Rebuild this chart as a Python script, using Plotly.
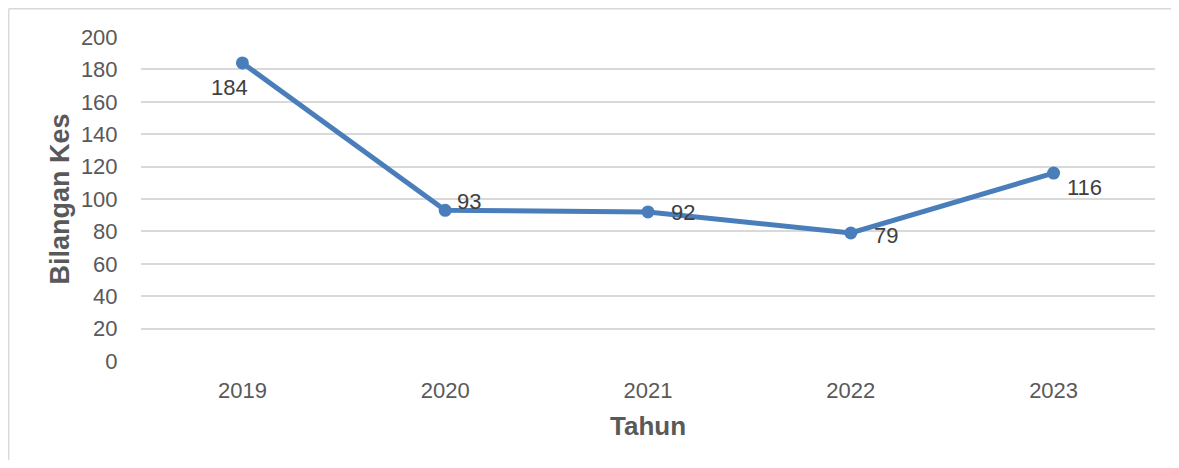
"""Line chart: Bilangan Kes per Tahun."""
import plotly.graph_objects as go

years = [2019, 2020, 2021, 2022, 2023]
cases = [184, 93, 92, 79, 116]

# pixel offsets of the data labels relative to each marker
label_dx = [-13, 24, 35, 35, 31]
label_dy = [-25, 9, -1, -2, -14]

y_ticks = list(range(0, 201, 20))

LINE_BLUE = "#4A7EBB"
GRID = "#D9D9D9"
TICK_GREY = "#595959"
FONT = "Liberation Sans, Arial, sans-serif"

fig = go.Figure()
fig.add_trace(
    go.Scatter(
        x=years,
        y=cases,
        mode="lines+markers",
        line=dict(color=LINE_BLUE, width=5),
        marker=dict(color=LINE_BLUE, size=13),
        hoverinfo="x+y",
        showlegend=False,
    )
)

for yr, val, dx, dy in zip(years, cases, label_dx, label_dy):
    fig.add_annotation(
        x=yr, y=val,
        text=str(val),
        showarrow=False,
        xshift=dx, yshift=dy,
        font=dict(family=FONT, size=22, color="#404040"),
    )

# outer chart border: only the left and top edges are inside the crop
fig.add_shape(
    type="line", xref="paper", yref="paper",
    x0=-0.1305, x1=-0.1305, y0=-0.45, y1=1.087,
    line=dict(color=GRID, width=1.5),
    layer="below",
)
fig.add_shape(
    type="line", xref="paper", yref="paper",
    x0=-0.1305, x1=1.2, y0=1.087, y1=1.087,
    line=dict(color=GRID, width=1.5),
    layer="below",
)

fig.update_layout(
    # page body adds an 8px margin; keep the figure inside the window
    width=1163,
    height=452,
    paper_bgcolor="white",
    plot_bgcolor="white",
    margin=dict(l=133, r=16, t=29, b=99),
    font=dict(family=FONT, color=TICK_GREY),
    xaxis=dict(
        range=[2018.5, 2023.5],
        tickvals=years,
        ticktext=[str(y) for y in years],
        showgrid=False,
        showline=False,
        zeroline=False,
        ticks="outside",
        ticklen=10,
        tickcolor="rgba(0,0,0,0)",
        tickfont=dict(size=22, color=TICK_GREY),
        title=dict(
            text="<b>Tahun</b>",
            font=dict(size=26, color=TICK_GREY),
            standoff=14,
        ),
    ),
    yaxis=dict(
        range=[0, 200],
        tickvals=y_ticks,
        showgrid=True,
        gridcolor=GRID,
        gridwidth=1.5,
        zeroline=False,
        showline=False,
        ticks="outside",
        ticklen=18,
        tickcolor="rgba(0,0,0,0)",
        tickfont=dict(size=22, color=TICK_GREY),
        title=dict(
            text="<b>Bilangan Kes</b>",
            font=dict(size=27, color=TICK_GREY),
            standoff=3,
        ),
    ),
)

fig.write_html("out.html")
